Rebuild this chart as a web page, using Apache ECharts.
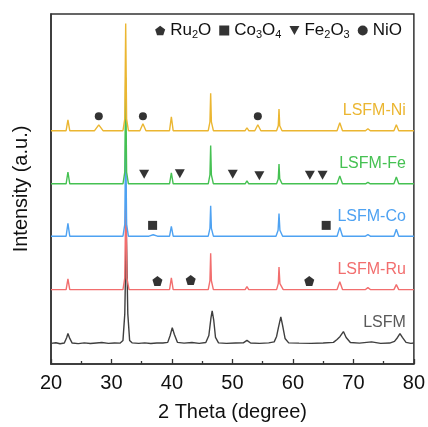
<!DOCTYPE html>
<html>
<head>
<meta charset="utf-8">
<script src="https://cdn.jsdelivr.net/npm/echarts@6/dist/echarts.min.js"></script>
<style>html,body{margin:0;padding:0;background:#fff}#c{width:428px;height:427px}</style>
</head>
<body>
<div id="c"></div>
<script>
// ---- data (2θ in degrees, intensity in a.u. above each trace's own baseline) ----
const sampleNames = ['LSFM', 'LSFM-Ru', 'LSFM-Co', 'LSFM-Fe', 'LSFM-Ni'];
const sampleOffsets = [21, 75.7, 130, 183.3, 237.3];

const patternLSFM = [[20,0],[20.8,0.6],[21.5,-0.4],[22.2,0.3],[22.6,6],[22.8,10],[23.1,5],[23.5,0.3],[24.5,-0.3],[25.5,0.5],[26.5,-0.2],[27.5,0.4],[28.4,0.8],[29.5,0],[30.5,0.4],[31.4,0.2],[31.9,3],[32.2,30],[32.45,115],[32.7,30],[33.0,3],[33.4,0.5],[34.5,0],[35.5,0.5],[36.5,-0.2],[37.5,0.4],[38.5,0.3],[39.3,1],[39.7,8],[40.05,16],[40.4,9],[40.9,1],[42,0.2],[43.3,0.8],[44.5,0],[45.6,0.8],[46.1,8],[46.45,26],[46.65,33],[46.9,24],[47.2,6],[47.7,0.5],[49,0],[50.5,0.4],[51.8,0.5],[52.4,3],[53,0.3],[54.5,0],[56,0.5],[56.9,1.5],[57.3,7],[57.6,16],[58.0,27],[58.3,18],[58.7,5],[59.3,0.5],[61,0.2],[63,0],[65,0.3],[66.7,1],[67.3,4],[67.8,7],[68.35,12],[68.8,6],[69.5,0.8],[71,0.2],[73,1.5],[74.5,0],[76,0.3],[76.8,2],[77.3,6],[77.7,10],[78.1,6],[78.7,1],[79.5,0],[80,0.3]];
const patternRu = [[20,0],[22.5,0],[22.8,11],[23.1,0],[31.9,0],[32.2,12],[32.4,108],[32.55,12],[32.9,0],[39.6,0],[39.9,12],[40.2,0],[46.0,0],[46.28,9],[46.4,37],[46.52,9],[46.85,0],[52.1,0],[52.4,3],[52.7,0],[57.3,0],[57.58,6],[57.7,23],[57.85,6],[58.4,0],[67.3,0],[67.75,8],[68.2,0],[72.0,0],[72.4,2],[72.8,0],[76.7,0],[77.1,5],[77.5,0],[80,0]];
const patternCo = [[20,0],[22.5,0],[22.8,13],[23.1,0],[31.9,0],[32.2,12],[32.35,107],[32.5,12],[32.8,0],[36.2,0],[36.9,1.5],[37.6,0],[39.6,0],[39.9,10],[40.2,0],[46.0,0],[46.28,8],[46.4,31],[46.52,8],[46.85,0],[52.1,0],[52.4,2],[52.7,0],[57.2,0],[57.55,6],[57.7,23],[57.85,6],[58.3,0],[67.3,0],[67.75,9],[68.2,0],[72.0,0],[72.4,1.5],[72.8,0],[76.7,0],[77.1,7],[77.5,0],[80,0]];
const patternFe = [[20,0],[22.5,0],[22.8,12],[23.1,0],[31.9,0],[32.2,12],[32.35,108],[32.5,12],[32.8,0],[39.6,0],[39.9,11],[40.2,0],[46.0,0],[46.28,9],[46.4,39],[46.52,9],[46.85,0],[52.1,0],[52.4,3],[52.7,0],[57.3,0],[57.58,5],[57.7,20],[57.82,5],[58.2,0],[67.3,0],[67.75,8],[68.2,0],[72.0,0],[72.4,1.5],[72.8,0],[76.7,0],[77.1,7],[77.5,0],[80,0]];
const patternNi = [[20,0],[22.5,0],[22.8,11],[23.1,0],[27.2,0],[27.9,6],[28.6,0],[31.9,0],[32.2,12],[32.35,109],[32.5,12],[32.8,0],[34.7,0],[35.2,7],[35.7,0],[39.6,0],[39.9,14],[40.2,0],[46.0,0],[46.28,9],[46.4,38],[46.52,9],[46.85,0],[52.1,0],[52.4,3],[52.7,0],[53.7,0],[54.2,6],[54.7,0],[57.3,0],[57.58,5],[57.7,22],[57.82,5],[58.2,0],[67.3,0],[67.75,8],[68.2,0],[72.0,0],[72.4,2],[72.8,0],[76.7,0],[77.1,6],[77.5,0],[80,0]];
const patterns = [patternLSFM, patternRu, patternCo, patternFe, patternNi];

// impurity-phase markers: [2θ, intensity level]
const phaseNames = ['Ru2O', 'Co3O4', 'Fe2O3', 'NiO'];
const markRu2O = [[37.6,84.5],[43.1,85.5],[62.7,84.5]];
const markCo3O4 = [[36.8,141],[65.5,141]];
const markFe2O3 = [[35.4,193],[41.3,193.5],[50.05,193],[54.45,191.5],[62.8,192],[64.9,192]];
const markNiO = [[27.9,252],[35.2,252],[54.2,252]];
const marks = [markRu2O, markCo3O4, markFe2O3, markNiO];

const xTicks = [20, 30, 40, 50, 60, 70, 80];

// ---- styles ----
const lineColors = ['#3f3f3f', '#f26e6e', '#4ea2f2', '#45c152', '#ebb631'];
const labelColors = ['#5a5a5a', '#f26e6e', '#4ea2f2', '#45c152', '#ebb631'];
const phaseSymbols = [
  'path://M5,0 L10,3.7 L8.1,9.6 L1.9,9.6 L0,3.7 Z',
  'rect',
  'path://M0,0 L10,0 L5,9 Z',
  'circle'
];
const phaseSizes = [[10,10],[9,9],[10,9],[8,8]];
const phaseRich = {
  'Ru2O': '{n|Ru}{s|2}{n|O}',
  'Co3O4': '{n|Co}{s|3}{n|O}{s|4}',
  'Fe2O3': '{n|Fe}{s|2}{n|O}{s|3}',
  'NiO': '{n|NiO}'
};

const series = [];
patterns.forEach((pat, i) => {
  series.push({
    type: 'line',
    name: sampleNames[i],
    data: pat.map(p => [p[0], p[1] + sampleOffsets[i]]),
    showSymbol: false,
    symbol: 'none',
    lineStyle: { color: lineColors[i], width: 1.4 },
    itemStyle: { color: lineColors[i] },
    z: 2 + i,
    animation: false,
    endLabel: {
      show: true,
      formatter: sampleNames[i],
      color: labelColors[i],
      fontSize: 16,
      fontFamily: 'Liberation Sans, Arial, sans-serif',
      align: 'right',
      distance: 0,
      offset: [-8, -20]
    }
  });
});
marks.forEach((m, j) => {
  series.push({
    type: 'scatter',
    name: phaseNames[j],
    data: m,
    symbol: phaseSymbols[j],
    symbolSize: phaseSizes[j],
    itemStyle: { color: '#000' },
    z: 20,
    animation: false
  });
});

const chart = echarts.init(document.getElementById('c'), null, { renderer: 'canvas' });
chart.setOption({
  backgroundColor: '#fff',
  animation: false,
  textStyle: { fontFamily: 'Liberation Sans, Arial, sans-serif' },
  grid: { left: 51, right: 13, top: 14, bottom: 57, show: true, borderColor: '#333', borderWidth: 1.5 },
  legend: {
    data: phaseNames.map((n, j) => ({ name: n, icon: phaseSymbols[j] })),
    right: 21,
    top: 17,
    itemWidth: 10,
    itemHeight: 10,
    itemGap: 8,
    formatter: n => phaseRich[n],
    textStyle: {
      color: '#111',
      rich: {
        n: { fontSize: 17, lineHeight: 20, color: '#111', fontFamily: 'Liberation Sans, Arial, sans-serif' },
        s: { fontSize: 11, lineHeight: 11, verticalAlign: 'bottom', color: '#111', fontFamily: 'Liberation Sans, Arial, sans-serif' }
      }
    },
    selectedMode: false
  },
  xAxis: {
    type: 'value',
    min: xTicks[0],
    max: xTicks[xTicks.length - 1],
    interval: 10,
    name: '2 Theta (degree)',
    nameLocation: 'middle',
    nameGap: 38,
    nameTextStyle: { fontSize: 20, color: '#111' },
    axisLine: { show: true, lineStyle: { color: '#333', width: 1.5 } },
    axisTick: { show: true, inside: true, length: 5, lineStyle: { color: '#333', width: 1.3 } },
    minorTick: { show: true, splitNumber: 2, length: 3, lineStyle: { color: '#333', width: 1.3 } },
    axisLabel: { fontSize: 20, color: '#111', margin: 9 },
    splitLine: { show: false }
  },
  yAxis: {
    type: 'value',
    min: 0,
    max: 356,
    name: 'Intensity (a.u.)',
    nameLocation: 'middle',
    nameGap: 20,
    nameTextStyle: { fontSize: 20, color: '#111' },
    axisLine: { show: true, lineStyle: { color: '#333', width: 1.5 } },
    axisTick: { show: false },
    axisLabel: { show: false },
    splitLine: { show: false }
  },
  series: series
});
</script>
</body>
</html>
